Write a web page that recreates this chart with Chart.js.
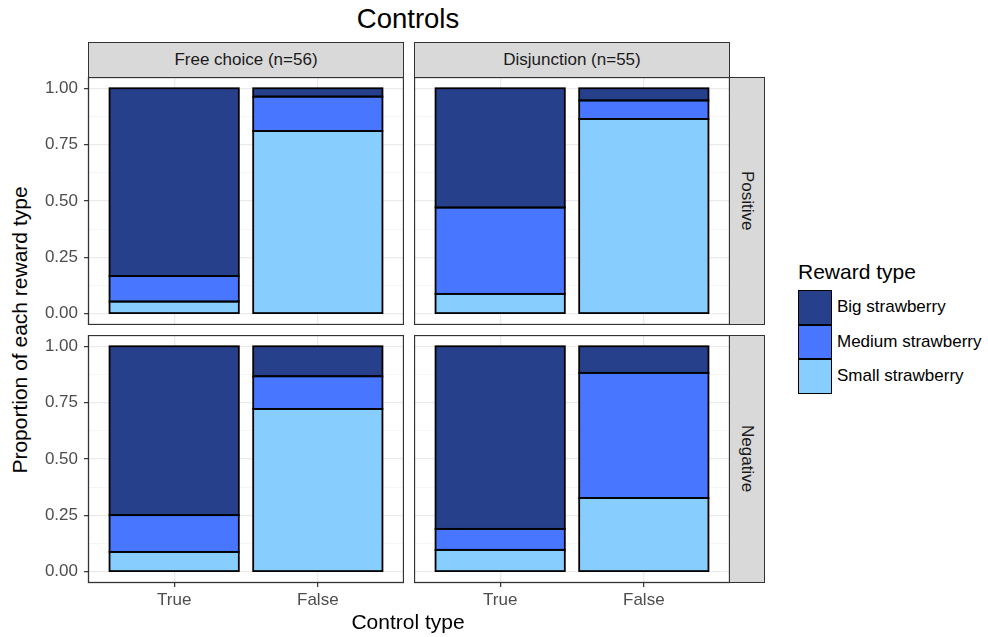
<!DOCTYPE html>
<html>
<head>
<meta charset="utf-8">
<script src="https://cdn.jsdelivr.net/npm/chart.js@4"></script>
<style>
  body { margin: 0; background: #fff; font-family: "Liberation Sans", Arial, sans-serif; }
  #fig { position: relative; width: 988px; height: 637px; overflow: hidden; }
  #fig canvas { position: absolute; }
  .txt { position: absolute; white-space: nowrap; transform: translate(-50%, -50%); }
  .strip { position: absolute; box-sizing: border-box; background: #D9D9D9; border: 1.3px solid #333;
           color: #1A1A1A; font-size: 17px; display: flex; align-items: center; justify-content: center; }
  .strip.side span { writing-mode: vertical-rl; }
  #legend { position: absolute; left: 798px; top: 260px; }
  #legend .ttl { font-size: 21px; color: #000; margin-bottom: 6px; }
  #legend .item { display: flex; align-items: center; height: 34.5px; }
  #legend .key { width: 34px; height: 34.5px; box-sizing: border-box; border: 1.7px solid #000; }
  #legend .lbl { font-size: 17px; color: #000; margin-left: 5px; }
</style>
</head>
<body>
<div id="fig">
  <div class="txt" style="left:408px; top:19px; font-size:27.5px;">Controls</div>
  <div class="strip" style="left:88px; top:42px; width:316px; height:36px;"><span>Free choice (n=56)</span></div>
  <div class="strip" style="left:414px; top:42px; width:316px; height:36px;"><span>Disjunction (n=55)</span></div>
  <div class="strip side" style="left:729px; top:77px; width:36px; height:248px;"><span>Positive</span></div>
  <div class="strip side" style="left:729px; top:335px; width:36px; height:248px;"><span>Negative</span></div>

  <canvas id="fcPos" width="364" height="248" style="left:40px; top:77px;"></canvas>
  <canvas id="djPos" width="316" height="248" style="left:414px; top:77px;"></canvas>
  <canvas id="fcNeg" width="364" height="276" style="left:40px; top:335px;"></canvas>
  <canvas id="djNeg" width="316" height="276" style="left:414px; top:335px;"></canvas>

  <div class="txt" style="left:408px; top:622px; font-size:21px;">Control type</div>
  <div class="txt" style="left:20px; top:330px; font-size:21px; transform: translate(-50%, -50%) rotate(-90deg);">Proportion of each reward type</div>

  <div id="legend"></div>
</div>

<script>
/* ==============================
   Data
============================== */
const controlTypes = ['True', 'False'];
const rewardTypes = ['Big strawberry', 'Medium strawberry', 'Small strawberry'];
const rewardColors = ['#27408B', '#4876FF', '#87CEFF'];
const yTicks = [0, 0.25, 0.5, 0.75, 1];
const yMinorTicks = [0.125, 0.375, 0.625, 0.875];

// proportions, one value per control type [True, False]
const freePosBig    = [0.833, 0.037];
const freePosMedium = [0.113, 0.153];
const freePosSmall  = [0.054, 0.810];

const disjPosBig    = [0.529, 0.054];
const disjPosMedium = [0.383, 0.082];
const disjPosSmall  = [0.088, 0.864];

const freeNegBig    = [0.749, 0.133];
const freeNegMedium = [0.163, 0.145];
const freeNegSmall  = [0.088, 0.722];

const disjNegBig    = [0.810, 0.118];
const disjNegMedium = [0.093, 0.555];
const disjNegSmall  = [0.097, 0.327];

/* ==============================
   Helpers
============================== */
const FONT = '"Liberation Sans", Arial, sans-serif';
const isMajor = v => yTicks.some(t => Math.abs(t - v) < 1e-9);

// ggplot-ish outlines: stroke centred on the bar edges + panel border
const outlinePlugin = {
    id: 'outline',
    afterDatasetsDraw(chart) {
        const ctx = chart.ctx;
        ctx.save();
        ctx.strokeStyle = '#000';
        ctx.lineWidth = 1.8;
        chart.data.datasets.forEach((ds, i) => {
            chart.getDatasetMeta(i).data.forEach(bar => {
                const p = bar.getProps(['x', 'y', 'base', 'width'], true);
                ctx.strokeRect(p.x - p.width / 2, Math.min(p.y, p.base), p.width, Math.abs(p.base - p.y));
            });
        });
        const a = chart.chartArea;
        ctx.strokeStyle = '#333';
        ctx.lineWidth = 1.3;
        ctx.strokeRect(a.left + 0.5, a.top + 0.5, a.right - a.left - 1, a.bottom - a.top - 1);
        ctx.restore();
    }
};

function toPoints(values) {
    return values.map((v, i) => ({ x: i + 1, y: v }));
}

function makePanel(id, big, medium, small, showY, showX) {
    // stacked bottom -> top: small, medium, big
    const datasets = [
        { label: rewardTypes[2], data: toPoints(small),  backgroundColor: rewardColors[2] },
        { label: rewardTypes[1], data: toPoints(medium), backgroundColor: rewardColors[1] },
        { label: rewardTypes[0], data: toPoints(big),    backgroundColor: rewardColors[0] }
    ].map(d => Object.assign(d, { borderWidth: 0, barPercentage: 0.9, categoryPercentage: 1 }));

    new Chart(document.getElementById(id), {
        type: 'bar',
        data: { datasets },
        options: {
            responsive: false,
            animation: false,
            devicePixelRatio: 1,
            layout: { padding: 0 },
            plugins: { legend: { display: false }, tooltip: { enabled: false } },
            scales: {
                x: {
                    type: 'linear', stacked: true, min: 0.4, max: 2.6,
                    offset: false,
                    afterBuildTicks: s => { s.ticks = [1, 2].map(v => ({ value: v })); },
                    afterFit: s => { s.height = showX ? 28 : 0; s.paddingLeft = 0; s.paddingRight = 0; },
                    border: { display: false },
                    grid: { offset: false, color: '#EBEBEB', lineWidth: 1.3, drawTicks: showX,
                            tickLength: 4, tickColor: '#333', tickWidth: 1.2 },
                    ticks: {
                        display: showX, padding: 3, color: '#4D4D4D',
                        font: { family: FONT, size: 17 },
                        callback: v => controlTypes[v - 1]
                    }
                },
                y: {
                    type: 'linear', stacked: true, min: -0.05, max: 1.05,
                    afterBuildTicks: s => {
                        s.ticks = [...yTicks, ...yMinorTicks].sort((a, b) => a - b).map(v => ({ value: v }));
                    },
                    afterFit: s => { s.width = showY ? 48 : 0; s.paddingTop = 0; s.paddingBottom = 0; },
                    border: { display: false },
                    grid: {
                        color: c => isMajor(c.tick.value) ? '#EBEBEB' : '#F4F4F4',
                        lineWidth: c => isMajor(c.tick.value) ? 1.3 : 0.8,
                        drawTicks: showY, tickLength: 4, tickWidth: 1.2,
                        tickColor: c => isMajor(c.tick.value) ? '#333' : 'rgba(0,0,0,0)'
                    },
                    ticks: {
                        display: showY, padding: 6, color: '#4D4D4D',
                        font: { family: FONT, size: 17 },
                        callback: v => isMajor(v) ? v.toFixed(2) : ''
                    }
                }
            }
        },
        plugins: [outlinePlugin]
    });
}

/* ==============================
   Panels
============================== */
makePanel('fcPos', freePosBig, freePosMedium, freePosSmall, true, false);
makePanel('djPos', disjPosBig, disjPosMedium, disjPosSmall, false, false);
makePanel('fcNeg', freeNegBig, freeNegMedium, freeNegSmall, true, true);
makePanel('djNeg', disjNegBig, disjNegMedium, disjNegSmall, false, true);

/* ==============================
   Legend
============================== */
const legend = document.getElementById('legend');
legend.innerHTML = '<div class="ttl">Reward type</div>' +
    rewardTypes.map((name, i) =>
        `<div class="item"><div class="key" style="background:${rewardColors[i]}"></div><div class="lbl">${name}</div></div>`
    ).join('');
</script>
</body>
</html>
